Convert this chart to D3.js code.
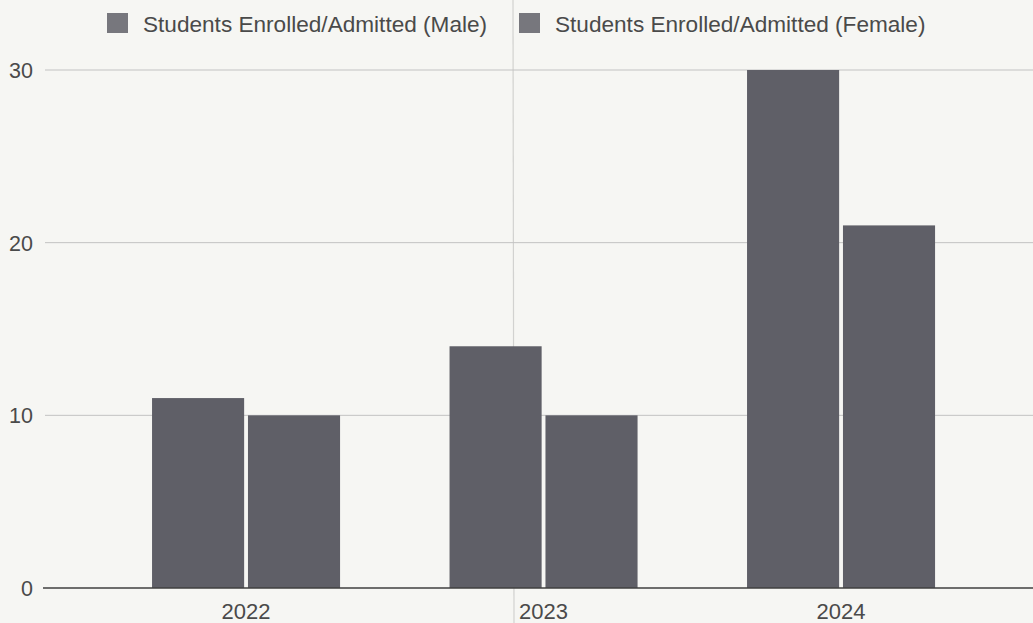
<!DOCTYPE html>
<html>
<head>
<meta charset="utf-8">
<script src="https://cdn.jsdelivr.net/npm/d3@7"></script>
<style>
  html, body { margin: 0; padding: 0; background: #f6f6f3; }
  svg { display: block; }
  text { font-family: "Liberation Sans", Arial, sans-serif; fill: #4a4a4a; }
</style>
</head>
<body>
<svg id="chart" width="1033" height="623"></svg>
<script>
// Admissions per year, split by gender
const years = ["2022", "2023", "2024"];
const seriesNames = ["Students Enrolled/Admitted (Male)", "Students Enrolled/Admitted (Female)"];
const maleValues = [11, 14, 30];
const femaleValues = [10, 10, 21];
const yTicks = [0, 10, 20, 30];

const W = 1033, H = 623;
const svg = d3.select("#chart");

const rows = years.map((y, i) => ({ year: y, values: [maleValues[i], femaleValues[i]] }));

const x = d3.scaleBand().domain(years).range([97.3, 989.8]).paddingInner(0.368).paddingOuter(0.184);
const xInner = d3.scaleBand().domain(d3.range(seriesNames.length)).range([0, x.bandwidth()]).paddingInner(0.04);
const y = d3.scaleLinear().domain([0, 30]).range([588, 70]);

const barColor = "#5f5f67";
const swatchColor = "#77777d";

// crease line running down the page
svg.append("line")
  .attr("x1", 513).attr("x2", 514).attr("y1", 0).attr("y2", H)
  .attr("stroke", "#d2d2d0").attr("stroke-width", 1.2);

// horizontal gridlines
svg.append("g")
  .selectAll("line")
  .data(yTicks.filter(t => t !== 0))
  .join("line")
  .attr("x1", 45).attr("x2", W)
  .attr("y1", d => y(d)).attr("y2", d => y(d))
  .attr("stroke", "#c2c2c2").attr("stroke-width", 1);

// y axis labels
const yAxis = d3.axisLeft(y).tickValues(yTicks).tickSize(0).tickPadding(0);
svg.append("g")
  .attr("transform", "translate(33,0)")
  .call(yAxis)
  .call(g => g.select(".domain").remove())
  .call(g => g.selectAll("text")
    .attr("font-size", 21.5)
    .attr("font-family", "'Liberation Sans', Arial, sans-serif")
    .attr("fill", "#444")
    .attr("dy", "0.35em"));

// bars
const groups = svg.append("g")
  .selectAll("g")
  .data(rows)
  .join("g")
  .attr("transform", d => `translate(${x(d.year)},0)`);

groups.selectAll("rect")
  .data(d => d.values.map((v, i) => ({ i, v })))
  .join("rect")
  .attr("x", d => xInner(d.i))
  .attr("width", xInner.bandwidth())
  .attr("y", d => y(d.v))
  .attr("height", d => y(0) - y(d.v))
  .attr("fill", barColor);

// baseline
svg.append("line")
  .attr("x1", 43).attr("x2", W)
  .attr("y1", y(0)).attr("y2", y(0))
  .attr("stroke", "#3f3f3f").attr("stroke-width", 1.6);

// x axis labels
const xAxis = d3.axisBottom(x).tickSize(0).tickPadding(0);
svg.append("g")
  .attr("transform", `translate(0,${y(0)})`)
  .call(xAxis)
  .call(g => g.select(".domain").remove())
  .call(g => g.selectAll("text")
    .attr("font-size", 22)
    .attr("font-family", "'Liberation Sans', Arial, sans-serif")
    .attr("fill", "#444")
    .attr("dy", "1.4em"));

// legend
const legendX = [107, 519];
const legend = svg.append("g")
  .selectAll("g")
  .data(seriesNames)
  .join("g")
  .attr("transform", (d, i) => `translate(${legendX[i]},24)`);

legend.append("rect")
  .attr("x", 0).attr("y", -11)
  .attr("width", 21).attr("height", 20)
  .attr("fill", swatchColor);

legend.append("text")
  .attr("x", 36).attr("y", 0)
  .attr("dy", "0.35em")
  .attr("font-size", 22.6)
  .attr("fill", "#505050")
  .text(d => d);
</script>
</body>
</html>
